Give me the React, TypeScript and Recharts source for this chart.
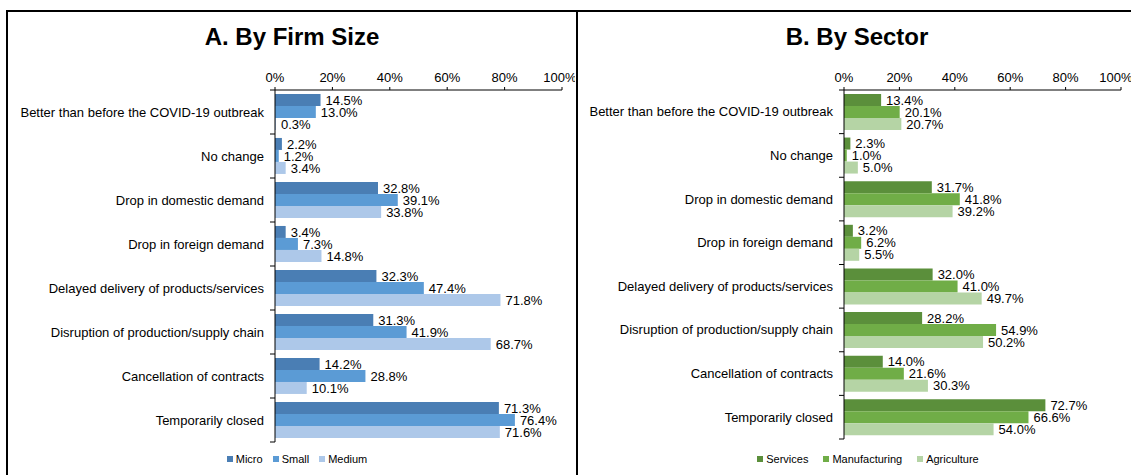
import { BarChart, Bar, XAxis, YAxis, LabelList } from 'recharts'

const CATEGORIES = [
  'Better than before the COVID-19 outbreak',
  'No change',
  'Drop in domestic demand',
  'Drop in foreign demand',
  'Delayed delivery of products/services',
  'Disruption of production/supply chain',
  'Cancellation of contracts',
  'Temporarily closed',
]

const MICRO = [14.5, 2.2, 32.8, 3.4, 32.3, 31.3, 14.2, 71.3]
const SMALL = [13.0, 1.2, 39.1, 7.3, 47.4, 41.9, 28.8, 76.4]
const MEDIUM = [0.3, 3.4, 33.8, 14.8, 71.8, 68.7, 10.1, 71.6]

const SERVICES = [13.4, 2.3, 31.7, 3.2, 32.0, 28.2, 14.0, 72.7]
const MANUFACTURING = [20.1, 1.0, 41.8, 6.2, 41.0, 54.9, 21.6, 66.6]
const AGRICULTURE = [20.7, 5.0, 39.2, 5.5, 49.7, 50.2, 30.3, 54.0]

const PCT_TICKS = [0, 20, 40, 60, 80, 100]

const firmSeries = [
  { key: 'Micro', values: MICRO, color: '#4a7eb4' },
  { key: 'Small', values: SMALL, color: '#5b9bd5' },
  { key: 'Medium', values: MEDIUM, color: '#adc8e9' },
]
const sectorSeries = [
  { key: 'Services', values: SERVICES, color: '#5b8f3b' },
  { key: 'Manufacturing', values: MANUFACTURING, color: '#70ad47' },
  { key: 'Agriculture', values: AGRICULTURE, color: '#b5d4a5' },
]

type Series = { key: string; values: number[]; color: string }

const buildRows = (series: Series[]) =>
  CATEGORIES.map((category, i) => {
    const row: any = { category }
    series.forEach((s) => (row[s.key] = s.values[i]))
    return row
  })

const FONT = '"Liberation Sans", Arial, sans-serif'

const makeTick = (axisX: number, count: number) => (props: any) => {
  const { y, payload, index } = props
  const half = payload?.offset ?? 22
  return (
    <g>
      <line x1={axisX - 5} x2={axisX} y1={y - half} y2={y - half} stroke="#000" />
      {index === count - 1 && (
        <line x1={axisX - 5} x2={axisX} y1={y + half} y2={y + half} stroke="#000" />
      )}
      <text x={axisX - 11} y={y} dy="0.35em" textAnchor="end" fontSize={13} fill="#000">
        {payload.value}
      </text>
    </g>
  )
}

function Panel({
  series, left, width, axisW, right, bottom, barMax,
}: {
  series: Series[]; left: number; width: number; axisW: number
  right: number; bottom: number; barMax: number
}) {
  const rows = buildRows(series)
  return (
    <div style={{ position: 'absolute', left, top: 0 }}>
      <BarChart
        width={width} height={470} data={rows} layout="vertical"
        margin={{ top: 60, right, bottom, left: 0 }}
        barCategoryGap="9%" barGap={0}
      >
        <XAxis
          xAxisId="bars" type="number" orientation="top" domain={[0, barMax]}
          hide height={0} allowDataOverflow
        />
        <XAxis
          xAxisId="ticks" type="number" orientation="top" domain={[0, 100]}
          ticks={PCT_TICKS} tickFormatter={(v) => `${v}%`} height={30}
          tickSize={3} tickMargin={5} stroke="#000"
          tick={{ fill: '#000', fontSize: 13 }} allowDataOverflow
        />
        <YAxis
          type="category" dataKey="category" width={axisW} stroke="#000"
          tickLine={false} tick={makeTick(axisW, CATEGORIES.length)} interval={0}
        />
        {series.map((s) => (
          <Bar key={s.key} dataKey={s.key} xAxisId="bars" fill={s.color} isAnimationActive={false}>
            <LabelList
              dataKey={s.key} position="right" offset={5} fill="#000" fontSize={13}
              formatter={(v: any) => `${Number(v).toFixed(1)}%`}
            />
          </Bar>
        ))}
      </BarChart>
    </div>
  )
}

function Legend({ series, center, gap }: { series: Series[]; center: number; gap: number }) {
  return (
    <div
      style={{
        position: 'absolute', left: center - 200, width: 400, top: 451, height: 16,
        display: 'flex', justifyContent: 'center', alignItems: 'center', gap,
        fontSize: 11, color: '#000',
      }}
    >
      {series.map((s) => (
        <div key={s.key} style={{ display: 'flex', alignItems: 'center', gap: 3 }}>
          <span style={{ width: 6, height: 6, background: s.color, display: 'inline-block' }} />
          <span>{s.key}</span>
        </div>
      ))}
    </div>
  )
}

const Title = ({ text, center }: { text: string; center: number }) => (
  <div
    style={{
      position: 'absolute', left: center - 200, width: 400, top: 22, textAlign: 'center',
      fontSize: 24, fontWeight: 'bold', lineHeight: '30px',
    }}
  >
    {text}
  </div>
)

export default function App() {
  return (
    <div
      style={{
        position: 'absolute', left: 0, top: 0, width: 1131, height: 475,
        overflow: 'hidden', background: '#fff', fontFamily: FONT,
      }}
    >
      <div style={{ position: 'absolute', left: 6, top: 10, width: 572, height: 500, border: '2px solid #000', boxSizing: 'border-box' }} />
      <div style={{ position: 'absolute', left: 576, top: 10, width: 600, height: 500, border: '2px solid #000', boxSizing: 'border-box' }} />
      <Title text="A. By Firm Size" center={292} />
      <Title text="B. By Sector" center={857} />
      <Panel series={firmSeries} left={0} width={575} axisW={275} right={13} bottom={28} barMax={91.4} />
      <Panel series={sectorSeries} left={570} width={561} axisW={274} right={10} bottom={31} barMax={100} />
      <Legend series={firmSeries} center={297} gap={10} />
      <Legend series={sectorSeries} center={868} gap={15} />
    </div>
  )
}
